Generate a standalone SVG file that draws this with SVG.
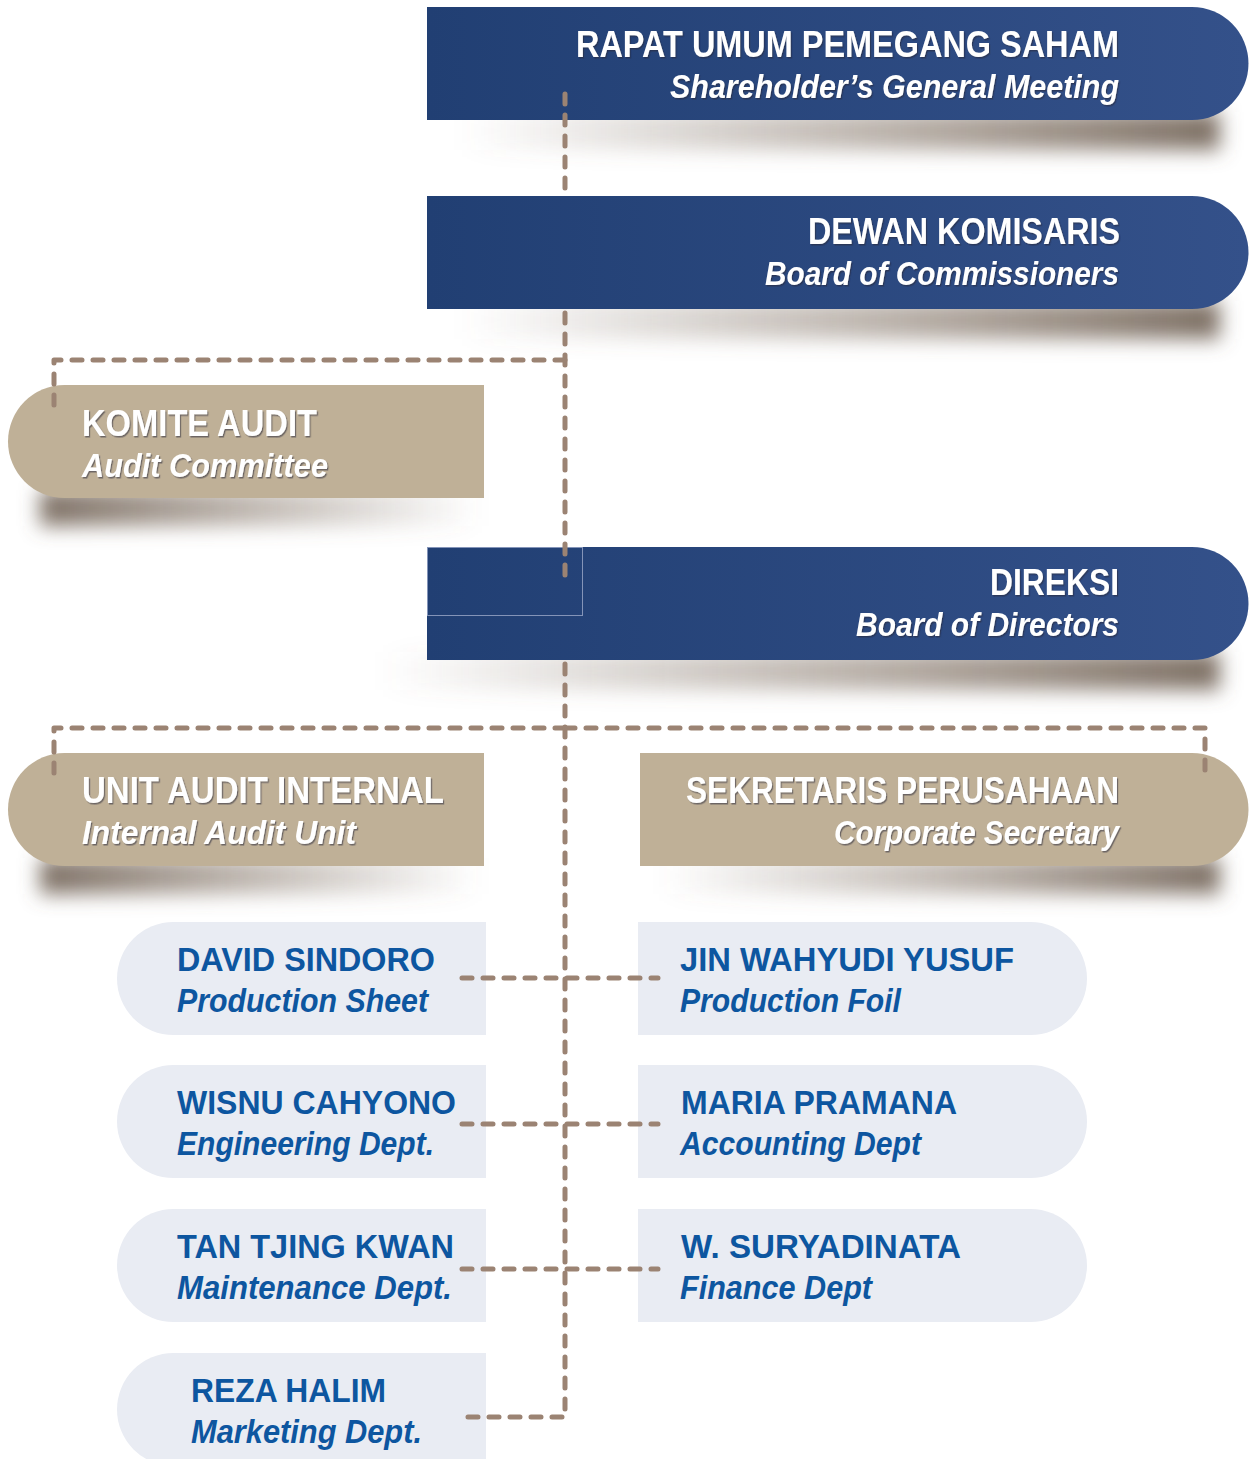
<svg xmlns="http://www.w3.org/2000/svg" width="1250" height="1459" viewBox="0 0 1250 1459">
<defs>
<linearGradient id="gDark" x1="0" y1="0" x2="1" y2="0">
<stop offset="0" stop-color="#213f73"/>
<stop offset="1" stop-color="#34518a"/>
</linearGradient>
<linearGradient id="gShR" x1="0" y1="0" x2="1" y2="0">
<stop offset="0" stop-color="#7a6a5c" stop-opacity="0"/>
<stop offset="0.6" stop-color="#7a6a5c" stop-opacity="0.55"/>
<stop offset="1" stop-color="#6e5f52" stop-opacity="0.9"/>
</linearGradient>
<linearGradient id="gShL" x1="1" y1="0" x2="0" y2="0">
<stop offset="0" stop-color="#7a6a5c" stop-opacity="0"/>
<stop offset="0.6" stop-color="#7a6a5c" stop-opacity="0.55"/>
<stop offset="1" stop-color="#6e5f52" stop-opacity="0.9"/>
</linearGradient>
<filter id="blur" x="-20%" y="-100%" width="140%" height="300%">
<feGaussianBlur stdDeviation="10"/>
</filter>
<filter id="ts" x="-5%" y="-20%" width="110%" height="140%">
<feDropShadow dx="1.2" dy="1.5" stdDeviation="0.6" flood-color="#2a2a3a" flood-opacity="0.55"/>
</filter>
<style>
.dark{fill:url(#gDark)}
.tan{fill:#bfb097}
.light{fill:#e9ecf3}
.shR{fill:url(#gShR);filter:url(#blur)}
.shL{fill:url(#gShL);filter:url(#blur)}
.wt{fill:#ffffff;font-family:"Liberation Sans",Arial,sans-serif;font-weight:bold;filter:url(#ts)}
.b1{font-size:36px}
.i1{font-size:34px;font-style:italic}
.bt{fill:#0d56a0;font-family:"Liberation Sans",Arial,sans-serif;font-weight:bold}
.b2{font-size:34px}
.i2{font-size:33px;font-style:italic}
.dash{fill:none;stroke:#9b8373;stroke-width:5;stroke-linecap:round;stroke-linejoin:round;stroke-dasharray:10 11}
</style>
</defs>

<g id="shadows">
<rect class="shR" x="460" y="112" width="760" height="38"/>
<rect class="shR" x="460" y="301" width="760" height="38"/>
<rect class="shR" x="380" y="652" width="840" height="38"/>
<rect class="shL" x="40" y="490" width="440" height="36"/>
<rect class="shL" x="40" y="858" width="440" height="36"/>
<rect class="shR" x="660" y="858" width="560" height="36"/>
</g>

<g id="node-rups">
<path class="dark" d="M427,7 H1192 A56.5,56.5 0 0 1 1192,120 H427 Z"/>
<text class="wt b1" x="1119" y="57" text-anchor="end" textLength="543" lengthAdjust="spacingAndGlyphs">RAPAT UMUM PEMEGANG SAHAM</text>
<text class="wt i1" x="1119" y="98" text-anchor="end" textLength="449" lengthAdjust="spacingAndGlyphs">Shareholder’s General Meeting</text>
</g>

<g id="node-dewan">
<path class="dark" d="M427,196 H1192 A56.5,56.5 0 0 1 1192,309 H427 Z"/>
<text class="wt b1" x="1120" y="244" text-anchor="end" textLength="312" lengthAdjust="spacingAndGlyphs">DEWAN KOMISARIS</text>
<text class="wt i1" x="1119" y="285" text-anchor="end" textLength="354" lengthAdjust="spacingAndGlyphs">Board of Commissioners</text>
</g>

<g id="node-komite">
<path class="tan" d="M484,385 H64.5 A56.5,56.5 0 0 0 64.5,498 H484 Z"/>
<text class="wt b1" x="82" y="436" textLength="235" lengthAdjust="spacingAndGlyphs">KOMITE AUDIT</text>
<text class="wt i1" x="82" y="477" textLength="246" lengthAdjust="spacingAndGlyphs">Audit Committee</text>
</g>

<g id="node-direksi">
<path class="dark" d="M427,547 H1192 A56.5,56.5 0 0 1 1192,660 H427 Z"/>
<rect x="427.5" y="547.5" width="155" height="68" fill="none" stroke="#8494b8" stroke-width="1"/>
<text class="wt b1" x="1119" y="595" text-anchor="end" textLength="129" lengthAdjust="spacingAndGlyphs">DIREKSI</text>
<text class="wt i1" x="1119" y="636" text-anchor="end" textLength="263" lengthAdjust="spacingAndGlyphs">Board of Directors</text>
</g>

<g id="node-unit-audit">
<path class="tan" d="M484,753 H64.5 A56.5,56.5 0 0 0 64.5,866 H484 Z"/>
<text class="wt b1" x="82" y="803" textLength="362" lengthAdjust="spacingAndGlyphs">UNIT AUDIT INTERNAL</text>
<text class="wt i1" x="82" y="844" textLength="274" lengthAdjust="spacingAndGlyphs">Internal Audit Unit</text>
</g>

<g id="node-sekretaris">
<path class="tan" d="M640,753 H1192 A56.5,56.5 0 0 1 1192,866 H640 Z"/>
<text class="wt b1" x="1119" y="803" text-anchor="end" textLength="433" lengthAdjust="spacingAndGlyphs">SEKRETARIS PERUSAHAAN</text>
<text class="wt i1" x="1119" y="844" text-anchor="end" textLength="285" lengthAdjust="spacingAndGlyphs">Corporate Secretary</text>
</g>

<g id="node-david">
<path class="light" d="M486,922 H173.5 A56.5,56.5 0 0 0 173.5,1035 H486 Z"/>
<text class="bt b2" x="177" y="971" textLength="258" lengthAdjust="spacingAndGlyphs">DAVID SINDORO</text>
<text class="bt i2" x="177" y="1012" textLength="251" lengthAdjust="spacingAndGlyphs">Production Sheet</text>
</g>

<g id="node-jin">
<path class="light" d="M638,922 H1030.5 A56.5,56.5 0 0 1 1030.5,1035 H638 Z"/>
<text class="bt b2" x="680" y="971" textLength="334" lengthAdjust="spacingAndGlyphs">JIN WAHYUDI YUSUF</text>
<text class="bt i2" x="680" y="1012" textLength="221" lengthAdjust="spacingAndGlyphs">Production Foil</text>
</g>

<g id="node-wisnu">
<path class="light" d="M486,1065 H173.5 A56.5,56.5 0 0 0 173.5,1178 H486 Z"/>
<text class="bt b2" x="177" y="1114" textLength="279" lengthAdjust="spacingAndGlyphs">WISNU CAHYONO</text>
<text class="bt i2" x="177" y="1155" textLength="257" lengthAdjust="spacingAndGlyphs">Engineering Dept.</text>
</g>

<g id="node-maria">
<path class="light" d="M638,1065 H1030.5 A56.5,56.5 0 0 1 1030.5,1178 H638 Z"/>
<text class="bt b2" x="681" y="1114" textLength="276" lengthAdjust="spacingAndGlyphs">MARIA PRAMANA</text>
<text class="bt i2" x="680" y="1155" textLength="241" lengthAdjust="spacingAndGlyphs">Accounting Dept</text>
</g>

<g id="node-tan">
<path class="light" d="M486,1209 H173.5 A56.5,56.5 0 0 0 173.5,1322 H486 Z"/>
<text class="bt b2" x="177" y="1258" textLength="277" lengthAdjust="spacingAndGlyphs">TAN TJING KWAN</text>
<text class="bt i2" x="177" y="1299" textLength="275" lengthAdjust="spacingAndGlyphs">Maintenance Dept.</text>
</g>

<g id="node-surya">
<path class="light" d="M638,1209 H1030.5 A56.5,56.5 0 0 1 1030.5,1322 H638 Z"/>
<text class="bt b2" x="681" y="1258" textLength="280" lengthAdjust="spacingAndGlyphs">W. SURYADINATA</text>
<text class="bt i2" x="680" y="1299" textLength="192" lengthAdjust="spacingAndGlyphs">Finance Dept</text>
</g>

<g id="node-reza">
<path class="light" d="M486,1353 H173.5 A56.5,56.5 0 0 0 173.5,1466 H486 Z"/>
<text class="bt b2" x="191" y="1402" textLength="195" lengthAdjust="spacingAndGlyphs">REZA HALIM</text>
<text class="bt i2" x="191" y="1443" textLength="231" lengthAdjust="spacingAndGlyphs">Marketing Dept.</text>
</g>

<g id="connectors">
<path class="dash" d="M565,94 V192"/>
<path class="dash" d="M565,313 V576"/>
<path class="dash" d="M565,360 H54 V412"/>
<path class="dash" d="M565,664 V1417 H462"/>
<path class="dash" d="M565,728 H54 V780"/>
<path class="dash" d="M565,728 H1205 V780"/>
<path class="dash" d="M462,978 H658"/>
<path class="dash" d="M462,1124 H658"/>
<path class="dash" d="M462,1269 H658"/>
</g>
</svg>
